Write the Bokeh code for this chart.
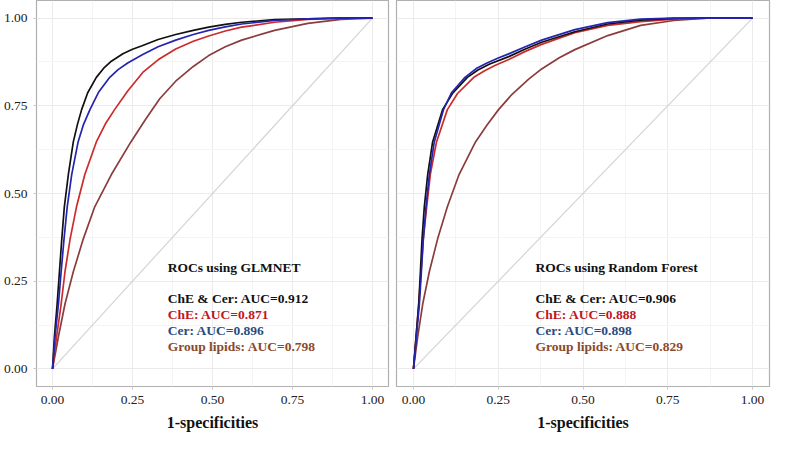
from bokeh.plotting import figure
from bokeh.layouts import row
from bokeh.models import FixedTicker, Range1d, NumeralTickFormatter, ColumnDataSource
from bokeh.core.properties import value
from bokeh.embed import file_html
from bokeh.resources import INLINE

FONT = "Liberation Serif"
MAJOR_TICKS = [0.0, 0.25, 0.5, 0.75, 1.0]
MINOR_TICKS = [0.125, 0.375, 0.625, 0.875]

# ---- GLMNET panel (fpr, tpr) ----
glm_combo_fpr = [0, 0.006, 0.0145, 0.0217, 0.029, 0.037, 0.0495, 0.065, 0.078, 0.091, 0.11, 0.137, 0.16, 0.184, 0.22, 0.25, 0.28, 0.33, 0.385, 0.44, 0.488, 0.54, 0.591, 0.694, 0.798, 0.901, 1.0]
glm_combo_tpr = [0, 0.0925, 0.185, 0.277, 0.37, 0.462, 0.554, 0.647, 0.697, 0.739, 0.787, 0.831, 0.857, 0.877, 0.898, 0.911, 0.921, 0.939, 0.953, 0.965, 0.974, 0.982, 0.988, 0.9955, 0.998, 1.0, 1.0]
glm_cer_fpr = [0, 0.008, 0.0186, 0.027, 0.036, 0.046, 0.060, 0.080, 0.097, 0.117, 0.145, 0.179, 0.205, 0.235, 0.282, 0.33, 0.385, 0.44, 0.488, 0.54, 0.591, 0.694, 0.798, 0.901, 1.0]
glm_cer_tpr = [0, 0.0925, 0.185, 0.277, 0.37, 0.462, 0.554, 0.647, 0.697, 0.739, 0.790, 0.831, 0.853, 0.872, 0.896, 0.918, 0.937, 0.953, 0.965, 0.975, 0.983, 0.993, 0.998, 1.0, 1.0]
glm_che_fpr = [0, 0.013, 0.027, 0.039, 0.055, 0.075, 0.101, 0.137, 0.165, 0.194, 0.235, 0.282, 0.33, 0.385, 0.44, 0.488, 0.54, 0.591, 0.694, 0.798, 0.901, 1.0]
glm_che_tpr = [0, 0.0925, 0.185, 0.277, 0.37, 0.462, 0.554, 0.647, 0.698, 0.739, 0.792, 0.845, 0.881, 0.912, 0.934, 0.949, 0.963, 0.974, 0.988, 0.996, 1.0, 1.0]
glm_grp_fpr = [0, 0.0186, 0.039, 0.065, 0.096, 0.132, 0.184, 0.245, 0.29, 0.335, 0.385, 0.44, 0.488, 0.54, 0.591, 0.694, 0.798, 0.901, 1.0]
glm_grp_tpr = [0, 0.0925, 0.185, 0.277, 0.37, 0.462, 0.554, 0.647, 0.71, 0.77, 0.82, 0.862, 0.893, 0.918, 0.937, 0.965, 0.985, 0.996, 1.0]

# ---- Random Forest panel (fpr, tpr) ----
rf_combo_fpr = [0, 0.0078, 0.0156, 0.0205, 0.0253, 0.032, 0.042, 0.0565, 0.0858, 0.115, 0.159, 0.19, 0.225, 0.281, 0.33, 0.378, 0.476, 0.573, 0.670, 0.768, 0.84, 1.0]
rf_combo_tpr = [0, 0.0925, 0.185, 0.277, 0.37, 0.462, 0.554, 0.647, 0.739, 0.785, 0.831, 0.852, 0.869, 0.890, 0.912, 0.931, 0.961, 0.983, 0.994, 0.999, 1.0, 1.0]
rf_cer_fpr = [0, 0.0088, 0.0175, 0.0234, 0.029, 0.037, 0.0468, 0.0614, 0.0887, 0.112, 0.152, 0.185, 0.217, 0.25, 0.281, 0.33, 0.378, 0.476, 0.573, 0.670, 0.768, 1.0]
rf_cer_tpr = [0, 0.0925, 0.185, 0.277, 0.37, 0.462, 0.554, 0.647, 0.739, 0.787, 0.831, 0.856, 0.872, 0.886, 0.898, 0.918, 0.937, 0.967, 0.987, 0.997, 1.0, 1.0]
rf_che_fpr = [0, 0.0078, 0.0156, 0.0224, 0.029, 0.039, 0.0497, 0.068, 0.100, 0.13, 0.178, 0.21, 0.24, 0.281, 0.33, 0.378, 0.476, 0.573, 0.670, 0.768, 0.865, 1.0]
rf_che_tpr = [0, 0.0925, 0.185, 0.277, 0.37, 0.462, 0.554, 0.647, 0.739, 0.785, 0.831, 0.850, 0.865, 0.882, 0.905, 0.925, 0.958, 0.979, 0.990, 0.997, 1.0, 1.0]
rf_grp_fpr = [0, 0.0127, 0.0273, 0.0468, 0.0711, 0.100, 0.1345, 0.183, 0.217, 0.251, 0.29, 0.339, 0.378, 0.43, 0.476, 0.573, 0.670, 0.768, 0.865, 1.0]
rf_grp_tpr = [0, 0.0925, 0.185, 0.277, 0.37, 0.462, 0.554, 0.647, 0.695, 0.739, 0.782, 0.825, 0.855, 0.887, 0.910, 0.950, 0.979, 0.993, 1.0, 1.0]

diag = [0.0, 1.0]

line_colors = {"grp": "#8b3d3d", "che": "#cc2b2b", "combo": "#111111", "cer": "#2424b0"}

glm_title = "ROCs using GLMNET"
glm_labels = ["ChE & Cer: AUC=0.912", "ChE: AUC=0.871", "Cer: AUC=0.896", "Group lipids: AUC=0.798"]
rf_title = "ROCs using Random Forest"
rf_labels = ["ChE & Cer: AUC=0.906", "ChE: AUC=0.888", "Cer: AUC=0.898", "Group lipids: AUC=0.829"]
label_colors = ["#111111", "#c0161c", "#2b4a80", "#8b4a2a"]

text_x = 0.36
text_title_y = 0.29
text_line_y = [0.20, 0.155, 0.11, 0.065]


def make_panel(width, show_y, curves, title, labels, min_left, min_right):
    p = figure(width=width, height=433,
               x_range=Range1d(-0.05, 1.05), y_range=Range1d(-0.05, 1.05),
               output_backend="svg", toolbar_location=None,
               min_border_left=min_left, min_border_right=min_right,
               min_border_top=0, min_border_bottom=0)
    p.background_fill_color = "white"
    p.border_fill_color = "white"
    p.outline_line_color = "#b0b0b0"
    p.outline_line_width = 1.2

    for g in (p.xgrid[0], p.ygrid[0]):
        g.ticker = FixedTicker(ticks=MAJOR_TICKS, minor_ticks=MINOR_TICKS)
        g.grid_line_color = "#ebebeb"
        g.grid_line_width = 1
        g.minor_grid_line_color = "#f4f4f4"
        g.minor_grid_line_width = 1

    for ax in (p.xaxis[0], p.yaxis[0]):
        ax.ticker = FixedTicker(ticks=MAJOR_TICKS)
        ax.formatter = NumeralTickFormatter(format="0.00")
        ax.axis_line_color = None
        ax.major_tick_line_color = "#c8c8c8"
        ax.major_tick_out = 3
        ax.major_tick_in = 0
        ax.minor_tick_line_color = None
        ax.major_label_text_font = FONT
        ax.major_label_text_font_size = "13.5px"
        ax.major_label_text_color = "#222222"
        ax.major_label_standoff = 6

    p.xaxis.axis_label = "1-specificities"
    p.xaxis.axis_label_text_font = FONT
    p.xaxis.axis_label_text_font_style = "bold"
    p.xaxis.axis_label_text_font_size = "16px"
    p.xaxis.axis_label_text_color = "#111111"
    p.xaxis.axis_label_standoff = 7

    if not show_y:
        p.yaxis.visible = False

    p.line(diag, diag, line_color="#d4d4d4", line_width=1.2)
    for key in ("grp", "che", "combo", "cer"):
        fx, fy = curves[key]
        p.line(fx, fy, line_color=line_colors[key], line_width=1.7, line_join="round")

    p.text(x=[text_x], y=[text_title_y], text=[title], text_color="#111111",
           text_font=value(FONT), text_font_style="bold", text_font_size="13.5px",
           text_baseline="middle", text_align="left")
    src = ColumnDataSource(dict(x=[text_x] * len(labels), y=text_line_y, t=labels, c=label_colors))
    p.text(x="x", y="y", text="t", text_color="c", source=src,
           text_font=value(FONT), text_font_style="bold", text_font_size="13.5px",
           text_baseline="middle", text_align="left")
    return p


left = make_panel(392, True,
                  {"combo": (glm_combo_fpr, glm_combo_tpr), "cer": (glm_cer_fpr, glm_cer_tpr),
                   "che": (glm_che_fpr, glm_che_tpr), "grp": (glm_grp_fpr, glm_grp_tpr)},
                  glm_title, glm_labels, 0, 4)
right = make_panel(379, False,
                   {"combo": (rf_combo_fpr, rf_combo_tpr), "cer": (rf_cer_fpr, rf_cer_tpr),
                    "che": (rf_che_fpr, rf_che_tpr), "grp": (rf_grp_fpr, rf_grp_tpr)},
                   rf_title, rf_labels, 4, 2)

layout = row(left, right)
open("out.html", "w").write(file_html(layout, INLINE))
